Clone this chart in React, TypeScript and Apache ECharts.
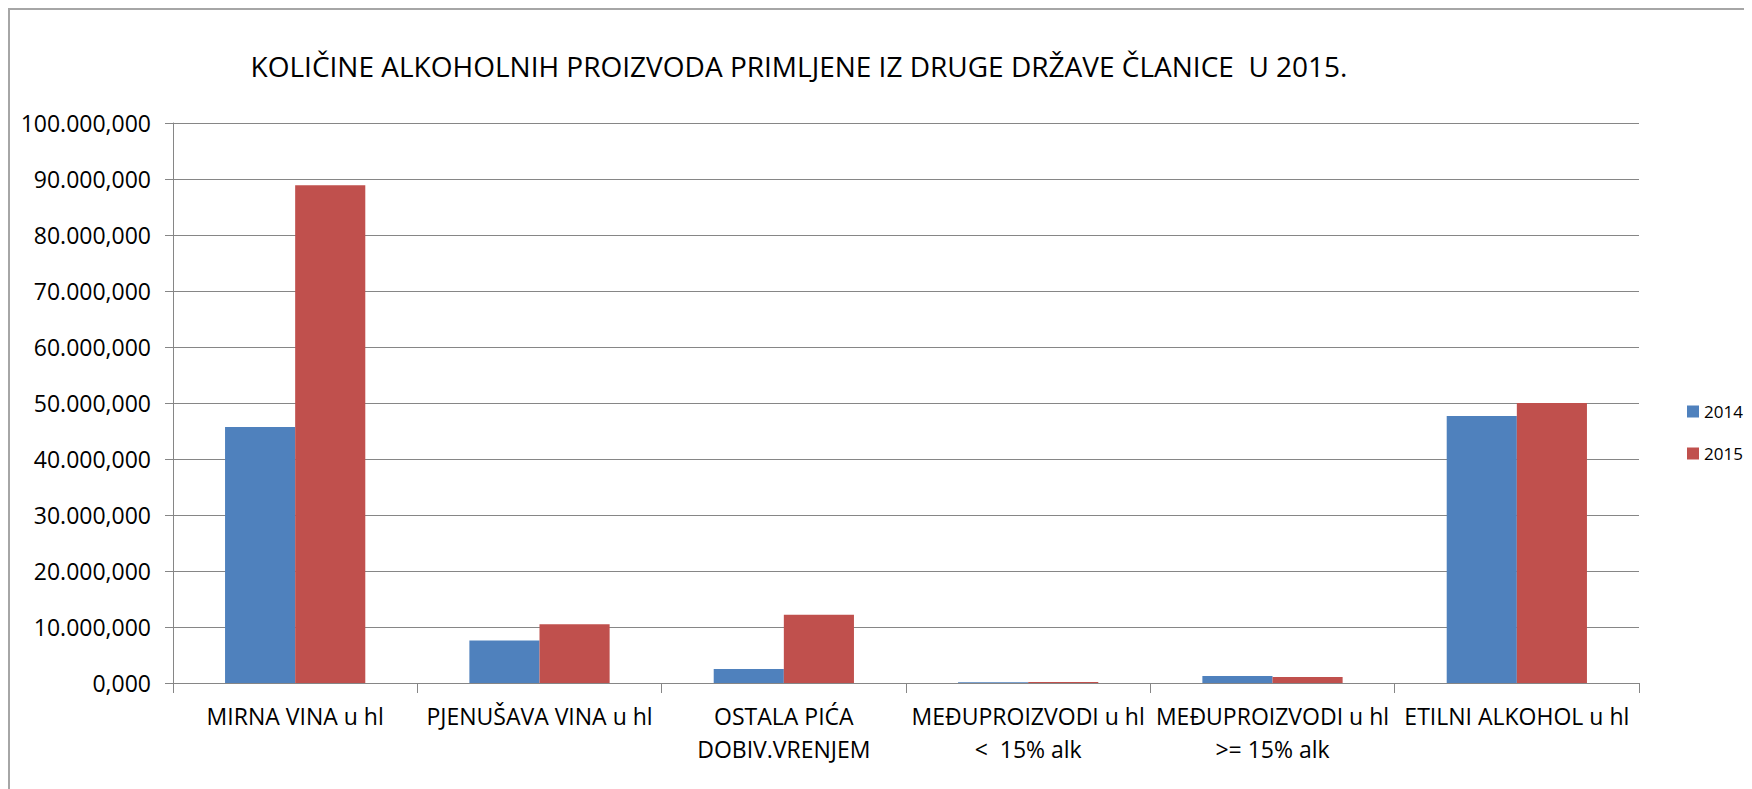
import React, { useEffect, useRef } from "react";
import * as echarts from "echarts";

const titleText = "KOLIČINE ALKOHOLNIH PROIZVODA PRIMLJENE IZ DRUGE DRŽAVE ČLANICE  U 2015.";
const categories = [
  "MIRNA VINA u hl",
  "PJENUŠAVA VINA u hl",
  "OSTALA PIĆA\nDOBIV.VRENJEM",
  "MEĐUPROIZVODI u hl\n<  15% alk",
  "MEĐUPROIZVODI u hl\n>= 15% alk",
  "ETILNI ALKOHOL u hl",
];
const seriesNames = ["2014", "2015"];
const values2014 = [45700, 7600, 2500, 150, 1250, 47700];
const values2015 = [88900, 10500, 12200, 200, 1050, 50000];
const yMin = 0;
const yMax = 100000;
const yInterval = 10000;

function fmt(v: number): string {
  const s = Math.round(v).toString().replace(/\B(?=(\d{3})+(?!\d))/g, ".");
  return s + ",000";
}

export default function App() {
  const ref = useRef<HTMLDivElement>(null);
  useEffect(() => {
    if (!ref.current) return;
    const chart = echarts.init(ref.current, null, { renderer: "svg" });
    const font = "'Open Sans', sans-serif";
    chart.setOption({
      animation: false,
      backgroundColor: "#ffffff",
      textStyle: { fontFamily: font },
      graphic: [
        {
          type: "text",
          x: 789,
          y: 56,
          style: {
            text: titleText,
            fill: "#000000",
            font: "28px 'Open Sans', sans-serif",
            textAlign: "center",
            textVerticalAlign: "middle",
          },
        },
      ],
      legend: {
        orient: "vertical",
        left: 1672,
        top: 388,
        itemWidth: 12,
        itemHeight: 12,
        itemGap: 25,
        icon: "rect",
        data: seriesNames,
        textStyle: { fontFamily: font, fontSize: 17, color: "#000" },
      },
      grid: {
        left: 163,
        right: 113,
        top: 113,
        bottom: 106,
        containLabel: false,
        outerBoundsMode: "none",
      },
      xAxis: {
        type: "category",
        data: categories,
        axisLine: { show: true, lineStyle: { color: "#868686", width: 1 } },
        axisTick: { show: true, alignWithLabel: false, length: 10, lineStyle: { color: "#868686" } },
        axisLabel: {
          interval: 0,
          margin: 16,
          fontFamily: font,
          fontSize: 23,
          lineHeight: 33,
          color: "#000",
        },
      },
      yAxis: {
        type: "value",
        min: yMin,
        max: yMax,
        interval: yInterval,
        axisLine: { show: true, lineStyle: { color: "#868686", width: 1 } },
        axisTick: { show: true, length: 8, lineStyle: { color: "#868686" } },
        splitLine: { show: true, lineStyle: { color: "#868686", width: 1 } },
        axisLabel: {
          margin: 22,
          fontFamily: font,
          fontSize: 23,
          color: "#000",
          formatter: (v: number) => fmt(v),
        },
      },
      series: [
        {
          name: seriesNames[0],
          type: "bar",
          data: values2014,
          barGap: "0%",
          barCategoryGap: "42.6%",
          itemStyle: { color: "#4F81BD" },
        },
        {
          name: seriesNames[1],
          type: "bar",
          data: values2015,
          barGap: "0%",
          barCategoryGap: "42.6%",
          itemStyle: { color: "#C0504D" },
        },
      ],
    });
    return () => chart.dispose();
  }, []);
  return (
    <div
      style={{
        width: 1744,
        height: 781,
        borderTop: "2px solid #a6a6a6",
        borderLeft: "2px solid #a6a6a6",
        boxSizing: "border-box",
      }}
    >
      <div ref={ref} style={{ width: 1742, height: 779 }} />
    </div>
  );
}
